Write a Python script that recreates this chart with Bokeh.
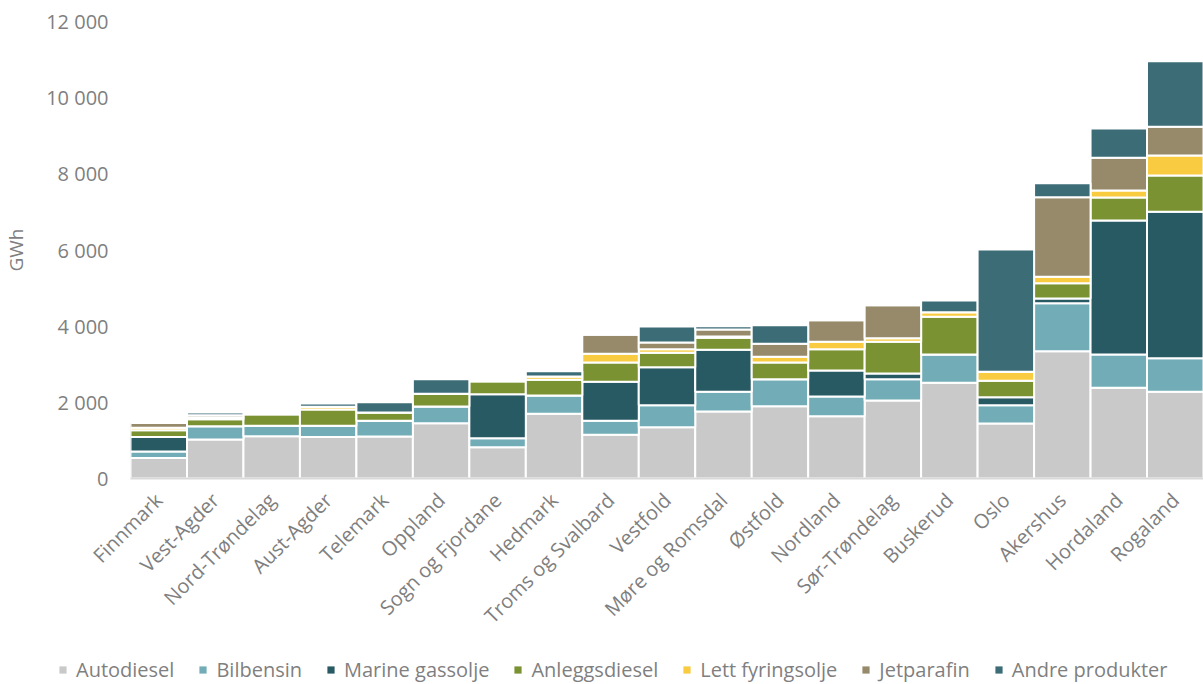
import math

from bokeh.embed import file_html
from bokeh.models import ColumnDataSource, FixedTicker, Legend, LegendItem, Range1d
from bokeh.plotting import figure
from bokeh.resources import INLINE

# Energy use per county (GWh), by product
counties = [
    "Finnmark", "Vest-Agder", "Nord-Trøndelag", "Aust-Agder", "Telemark",
    "Oppland", "Sogn og Fjordane", "Hedmark", "Troms og Svalbard", "Vestfold",
    "Møre og Romsdal", "Østfold", "Nordland", "Sør-Trøndelag", "Buskerud",
    "Oslo", "Akershus", "Hordaland", "Rogaland",
]
autodiesel = [540, 1025, 1110, 1090, 1100, 1450, 823, 1698, 1147, 1348,
              1759, 1900, 1637, 2048, 2512, 1444, 3344, 2381, 2276]
bilbensin = [170, 350, 273, 293, 415, 441, 236, 481, 367, 578,
             517, 709, 516, 561, 744, 482, 1261, 875, 883]
marine_gassolje = [380, 0, 0, 0, 0, 0, 1155, 0, 1025, 998,
                   1103, 0, 683, 148, 0, 210, 122, 3519, 3844]
anleggsdiesel = [180, 182, 307, 429, 218, 333, 342, 412, 507, 376,
                 315, 437, 560, 832, 990, 429, 403, 604, 954]
lett_fyringsolje = [60, 45, 0, 70, 0, 0, 0, 87, 228, 96,
                    35, 149, 193, 96, 122, 236, 166, 184, 525]
jetparafin = [125, 60, 0, 0, 0, 0, 0, 0, 499, 175,
              184, 341, 569, 867, 0, 0, 2092, 858, 753]
andre_produkter = [0, 70, 0, 88, 270, 384, 0, 140, 0, 420,
                   87, 491, 0, 0, 306, 3213, 368, 770, 1724]

series_names = ["Autodiesel", "Bilbensin", "Marine gassolje", "Anleggsdiesel",
                "Lett fyringsolje", "Jetparafin", "Andre produkter"]
series_keys = ["autodiesel", "bilbensin", "marine", "anlegg", "lett", "jet", "andre"]
series_colors = ["#c9c9c9", "#72adb7", "#285a64", "#7a9232", "#f9cb40", "#968a6b", "#3c6d77"]

y_ticks = [0, 2000, 4000, 6000, 8000, 10000, 12000]
y_tick_labels = ["0", "2 000", "4 000", "6 000", "8 000", "10 000", "12 000"]

source = ColumnDataSource(dict(
    county=counties,
    autodiesel=autodiesel,
    bilbensin=bilbensin,
    marine=marine_gassolje,
    anlegg=anleggsdiesel,
    lett=lett_fyringsolje,
    jet=jetparafin,
    andre=andre_produkter,
))

FONT = "Open Sans"
TEXT = "#7f7f7f"

p = figure(
    x_range=counties,
    y_range=Range1d(0, 12000),
    width=1203,
    height=644,
    output_backend="svg",
    toolbar_location=None,
    min_border_left=126,
    min_border_right=0,
    min_border_top=21,
    min_border_bottom=166,
)

p.vbar_stack(
    series_keys,
    x="county",
    width=1.0,
    color=series_colors,
    line_color="white",
    line_width=2,
    source=source,
)

p.xgrid.visible = False
p.ygrid.visible = False
p.outline_line_color = None
p.background_fill_color = "white"
p.border_fill_color = "white"

# y axis: labels only
p.yaxis.ticker = FixedTicker(ticks=y_ticks)
p.yaxis.major_label_overrides = dict(zip(y_ticks, y_tick_labels))
p.yaxis.axis_line_color = None
p.yaxis.major_tick_line_color = None
p.yaxis.minor_tick_line_color = None
p.yaxis.major_label_text_font = FONT
p.yaxis.major_label_text_font_size = "20px"
p.yaxis.major_label_text_color = TEXT
p.yaxis.major_label_standoff = 16
p.yaxis.axis_label = "GWh"
p.yaxis.axis_label_text_font = FONT
p.yaxis.axis_label_text_font_size = "19px"
p.yaxis.axis_label_text_font_style = "normal"
p.yaxis.axis_label_text_color = TEXT
p.yaxis.axis_label_standoff = 14

# x axis: light baseline and slanted county names
p.xaxis.axis_line_color = "#d9d9d9"
p.xaxis.axis_line_width = 2
p.xaxis.major_tick_line_color = None
p.xaxis.minor_tick_line_color = None
p.xaxis.major_label_orientation = math.pi / 4
p.xaxis.major_label_text_font = FONT
p.xaxis.major_label_text_font_size = "20px"
p.xaxis.major_label_text_color = TEXT
p.xaxis.major_label_standoff = 12

# legend strip under the chart (swatch glyphs sit outside the visible range)
lp = figure(
    width=1203,
    height=40,
    output_backend="svg",
    toolbar_location=None,
    min_border=0,
    x_axis_type=None,
    y_axis_type=None,
    x_range=Range1d(0, 1),
    y_range=Range1d(0, 1),
)
lp.grid.visible = False
lp.outline_line_color = None
swatches = [
    lp.vbar(x=[-5], top=[-5], width=1, fill_color=c, line_color=None)
    for c in series_colors
]
legend = Legend(
    items=[LegendItem(label=n, renderers=[r]) for n, r in zip(series_names, swatches)],
    orientation="horizontal",
    location=(58, 1),
    label_text_font=FONT,
    label_text_font_size="20px",
    label_text_color=TEXT,
    label_height=20,
    glyph_width=9,
    glyph_height=9,
    label_standoff=9,
    spacing=24,
    padding=0,
    margin=0,
    border_line_color=None,
    background_fill_alpha=0,
)
lp.add_layout(legend)

open("out.html", "w").write(file_html([p, lp], INLINE))
